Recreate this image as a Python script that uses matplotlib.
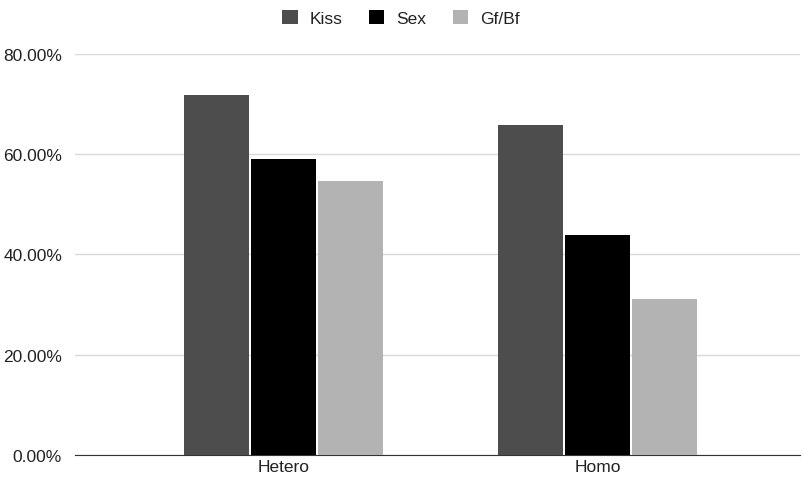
import numpy as np
import matplotlib
matplotlib.use('Agg')
import matplotlib.pyplot as plt
from matplotlib.ticker import FuncFormatter

plt.rcParams['font.family'] = ['Liberation Sans', 'DejaVu Sans']

groups = ['Hetero', 'Homo']
series = ['Kiss', 'Sex', 'Gf/Bf']
kiss = [71.8, 65.9]
sex = [59.0, 43.8]
gfbf = [54.7, 31.2]
colors = ['#4d4d4d', '#000000', '#b3b3b3']

fig = plt.figure(figsize=(8.02, 4.81), dpi=100)
ax = fig.add_axes([0.093, 0.052, 0.905, 0.834])

x = np.arange(len(groups))
w = 0.207
for i, (name, vals) in enumerate(zip(series, [kiss, sex, gfbf])):
    ax.bar(x + (i - 1) * (w + 0.006), vals, width=w, color=colors[i],
           label=name, zorder=3)

ax.set_xlim(-0.665, 1.645)
ax.set_ylim(0, 80)
ax.set_yticks([0, 20, 40, 60, 80])
ax.yaxis.set_major_formatter(FuncFormatter(lambda v, p: '%.2f%%' % v))
ax.set_xticks(x)
ax.set_xticklabels(groups)
ax.grid(axis='y', color='#d9d9d9', linewidth=1, zorder=0)
for s in ['top', 'right', 'left']:
    ax.spines[s].set_visible(False)
ax.spines['bottom'].set_color('#333333')
ax.tick_params(axis='y', length=0, labelsize=12.5, labelcolor='#222222', pad=9)
ax.tick_params(axis='x', length=0, labelsize=12.5, labelcolor='#222222', pad=3)

leg = fig.legend(loc='upper center', bbox_to_anchor=(0.5, 1.01), ncol=3,
                 frameon=False, fontsize=12.5, handlelength=0.9, handleheight=0.9,
                 handletextpad=0.7, columnspacing=1.5)
for t in leg.get_texts():
    t.set_color('#222222')

fig.savefig('out.png', dpi=100)
